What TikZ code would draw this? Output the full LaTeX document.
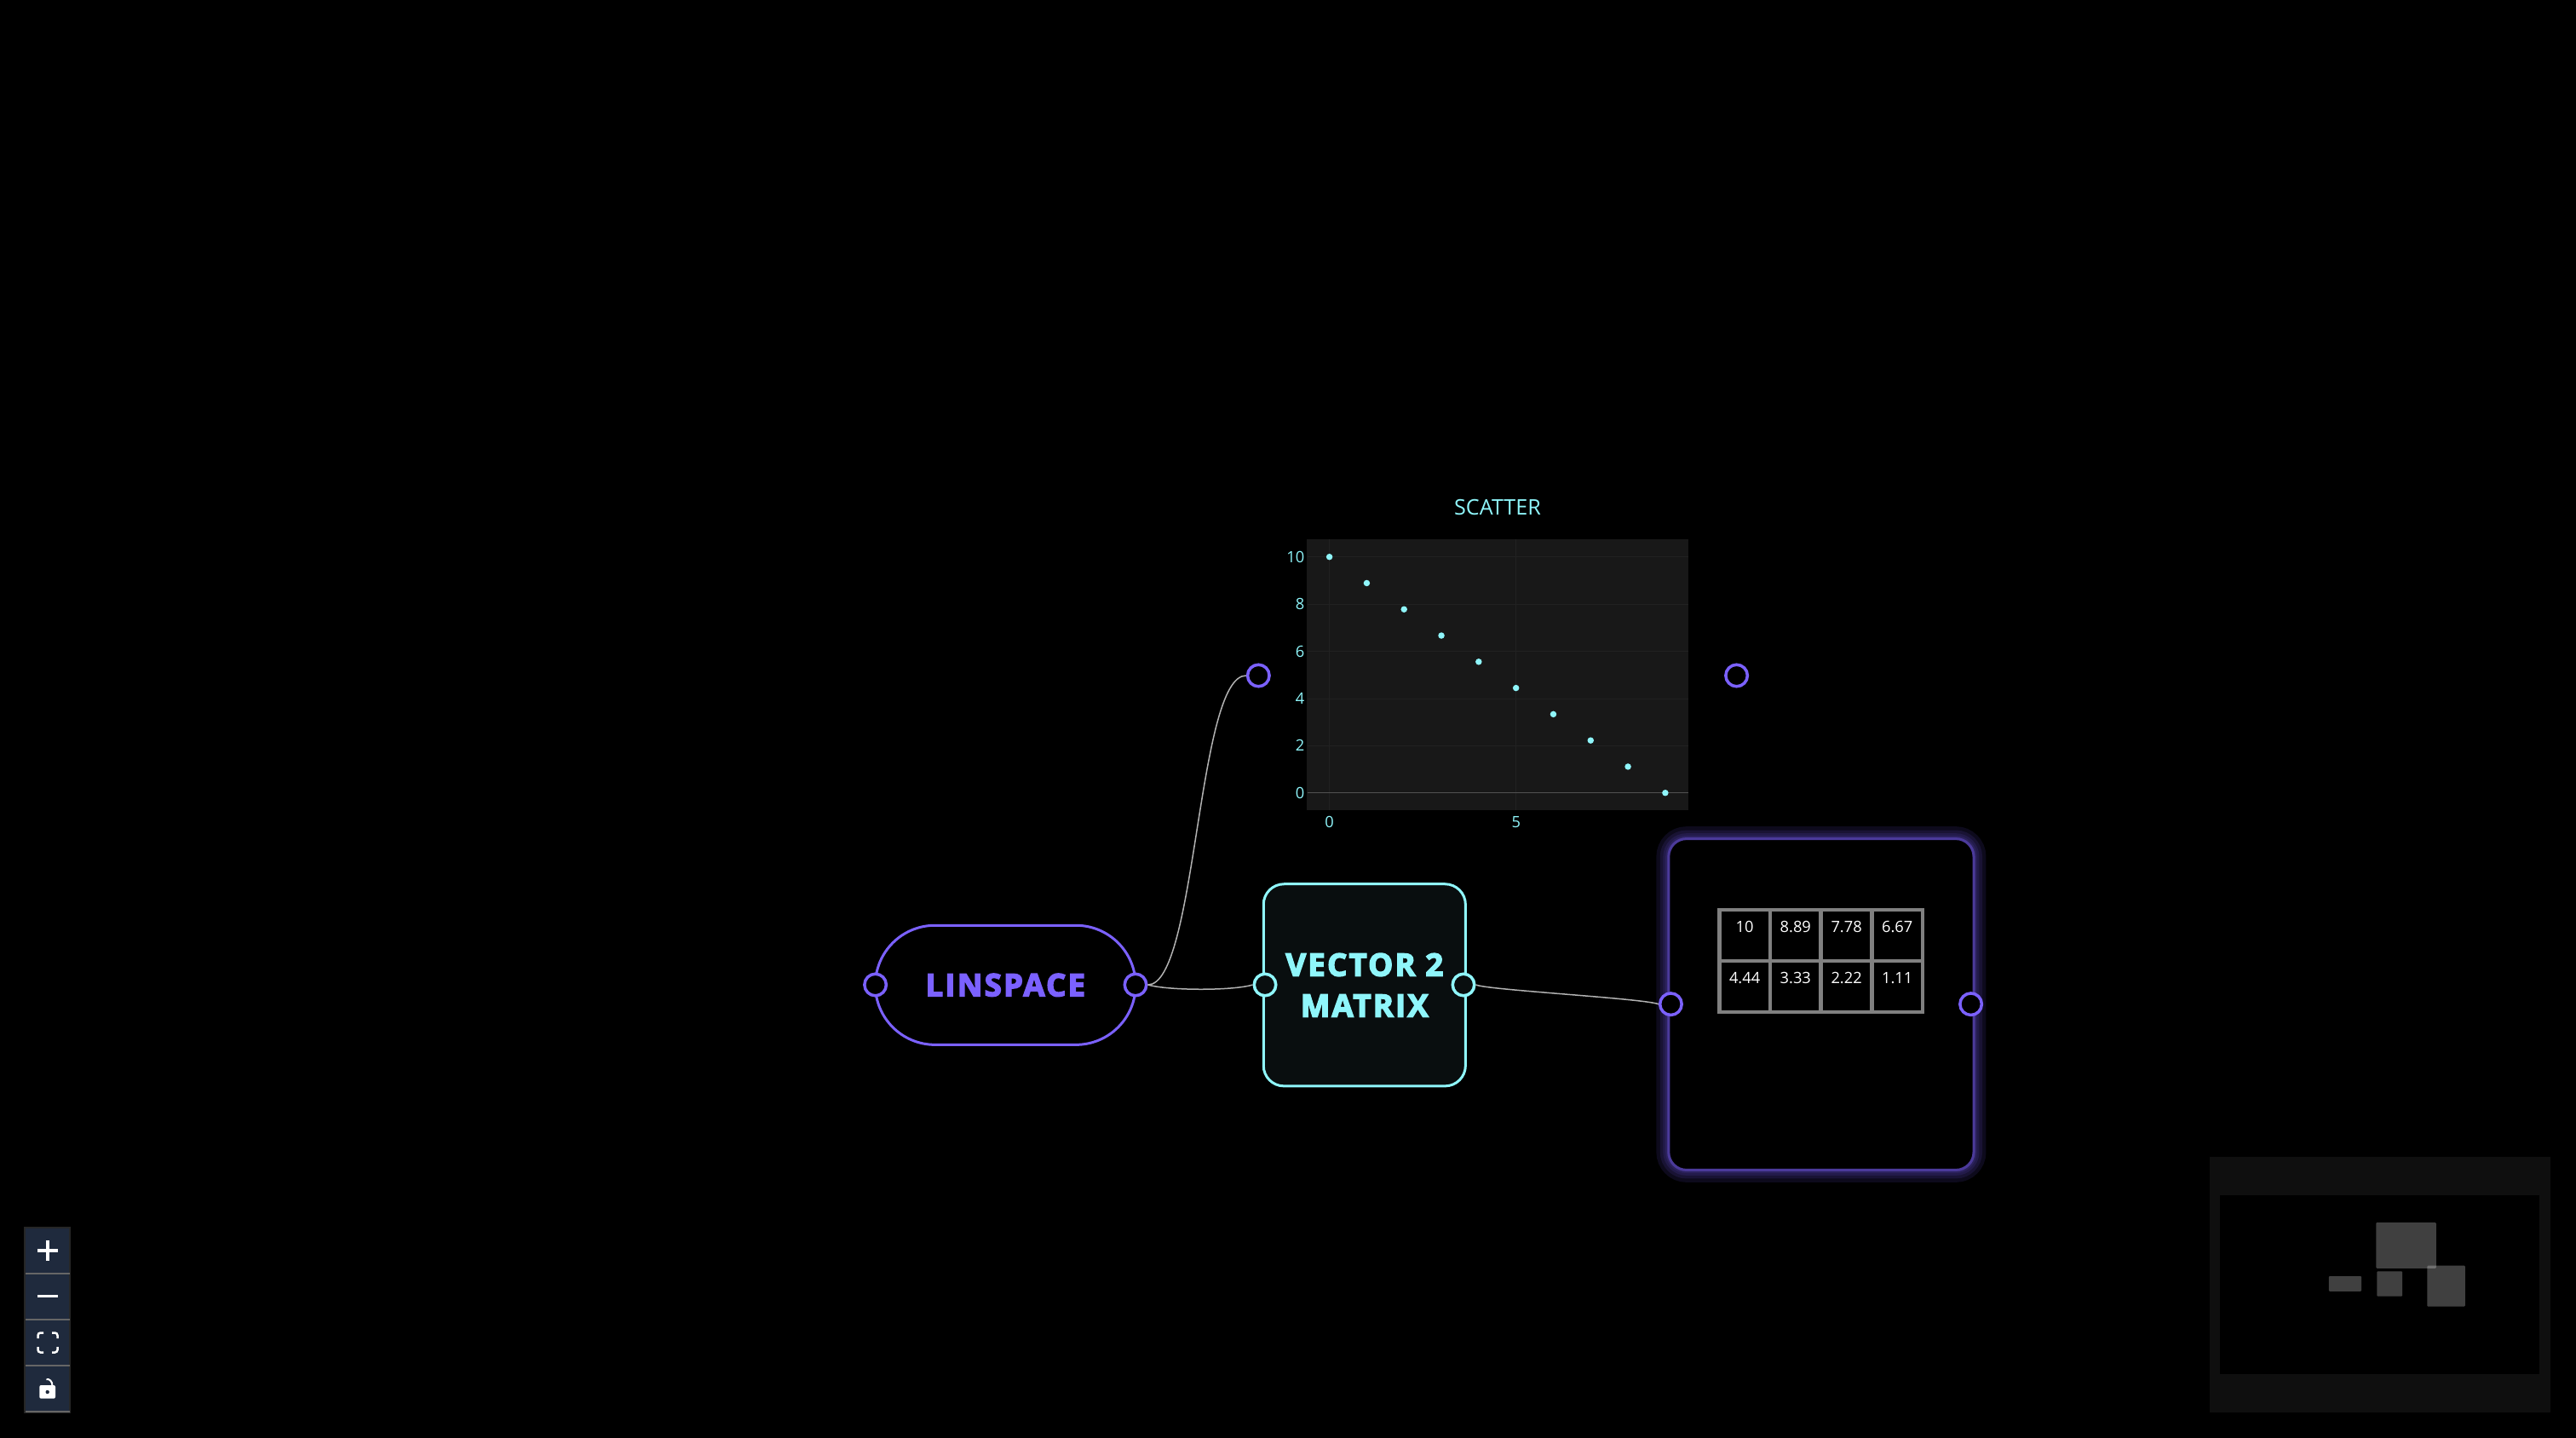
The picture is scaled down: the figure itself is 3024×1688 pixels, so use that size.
\documentclass[tikz,border=0pt]{standalone}
\usepackage{fontspec}
\setmainfont{Open Sans}
\newfontfamily\nodefont[LetterSpace=6,BoldFeatures={FakeBold=4}]{Open Sans}
\definecolor{nodepurple}{HTML}{7B61FF}
\definecolor{nodecyan}{HTML}{8FF6FB}
\definecolor{glowpurple}{HTML}{4B3A9A}
\definecolor{boxfill}{HTML}{090E0F}
\definecolor{plotfill}{HTML}{181818}
\definecolor{plotgrid}{HTML}{212121}
\definecolor{panelfill}{HTML}{1F2A3D}
\definecolor{mapfill}{HTML}{0F0F0F}
\begin{document}
\begin{tikzpicture}[x=.01cm,y=-.01cm,
    port/.style={circle,draw=nodepurple,fill=black,line width=.035cm,minimum size=.255cm,inner sep=0},
    cyanport/.style={port,draw=nodecyan,fill=boxfill},
    wire/.style={draw=black!30,line width=.015cm},
    pillbox/.style={rectangle,draw=nodepurple,line width=.03cm,rounded corners=.7cm,minimum width=3.054cm,
      minimum height=1.4cm,text=nodepurple,font=\nodefont\bfseries\fontsize{10.4}{13.65}\selectfont},
    vecbox/.style={rectangle,draw=nodecyan,fill=boxfill,line width=.03cm,rounded corners=.24cm,minimum width=2.37cm,
      minimum height=2.37cm,text=nodecyan,align=center,font=\nodefont\bfseries\fontsize{10.4}{13.65}\selectfont},
    outbox/.style={rectangle,rounded corners=.21cm,minimum width=3.58cm,minimum height=3.886cm},
    plotarea/.style={rectangle,fill=plotfill,minimum width=4.47cm,minimum height=3.18cm,inner sep=0},
    tick/.style={text=nodecyan,inner sep=0,font=\fontsize{5.2}{6}\selectfont},
    dot/.style={circle,fill=nodecyan,minimum size=.075cm,inner sep=0},
    matcell/.style={rectangle,draw=black!50,line width=.045cm,minimum width=.597cm,minimum height=.6cm,inner sep=0,
      text=white,text height=.19cm,text depth=.26cm,font=\fontsize{5.2}{6}\selectfont},
    mapbox/.style={rectangle,fill=white,fill opacity=.25,rounded corners=.01cm,inner sep=0},
    icon/.style={draw=white,line width=.035cm}]

  \useasboundingbox (0,0) rectangle (3024,1688);
  \fill[black] (0,0) rectangle (3024,1688);

  \node[text=nodecyan,inner sep=0,font=\fontsize{7.15}{8}\selectfont] (scattertitle) at (1758,596) {SCATTER};
  \node[plotarea] (scatterplot) at (1758,792) {};
  \foreach \v/\y in {10/653.7,8/709,6/764.7,4/820.3,2/875.3,0/930.7} {
    \draw[plotgrid,line width=.01cm] (1534.5,\y) -- (1981.5,\y);
    \node[tick,anchor=east] (ytick\v) at (1532,\y) {\v};
  }
  \foreach \v/\x in {0/1560.6,5/1779.8} {
    \draw[plotgrid,line width=.01cm] (\x,633) -- (\x,951);
    \node[tick] (xtick\v) at (\x,965) {\v};
  }
  \draw[black!68,line width=.012cm] (1534.5,930.7) -- (1981.5,930.7);
  \foreach \i in {0,...,9} {
    \node[dot] (dot\i) at (1560.6+43.81*\i,653.7+30.78*\i) {};
  }
  \node[port] (scatterin) at (1477.3,793) {};
  \node[port] (scatterout) at (2038.6,793) {};

  \node[pillbox] (linspace) at (1180.3,1156.3) {LINSPACE};
  \node[port] (linspacein) at (1027.6,1156) {};
  \node[port] (linspaceout) at (1333,1156) {};

  \node[vecbox] (vector) at (1601.8,1156.3) {VECTOR 2\\MATRIX};
  \node[cyanport] (vectorin) at (1485,1156) {};
  \node[cyanport] (vectorout) at (1718,1156) {};

  \foreach \g in {1,...,6} {
    \node[outbox,draw=nodepurple,line width=\g*\g*.008cm,draw opacity=.11] (glow\g) at (2137.9,1179) {};
  }
  \node[outbox,draw=glowpurple,fill=black,line width=.03cm] (output) at (2137.9,1179) {};
  \foreach \i/\x/\y/\v in {0/2048.1/1097.9/10,1/2107.8/1097.9/8.89,2/2167.6/1097.9/7.78,3/2227.2/1097.9/6.67,
      4/2048.1/1157.9/4.44,5/2107.8/1157.9/3.33,6/2167.6/1157.9/2.22,7/2227.2/1157.9/1.11} {
    \node[matcell] (cell\i) at (\x,\y) {\v};
  }
  \node[port] (outputin) at (1961.4,1178.7) {};
  \node[port] (outputout) at (2313.6,1178.7) {};

  \draw[wire] (linspaceout.east) .. controls (1405,1156) and (1405,793) .. (scatterin.west);
  \draw[wire] (linspaceout.east) .. controls (1372,1163) and (1448,1163) .. (vectorin.west);
  \draw[wire] (vectorout.east) .. controls (1745,1162) and (1930,1172) .. (outputin.west);

  \node[rectangle,fill=panelfill,draw=black!85,line width=.02cm,minimum width=.53cm,minimum height=2.17cm,inner sep=0] (zoompanel) at (55.8,1549.3) {};
  \foreach \y in {1495,1549,1603,1657} {
    \draw[black!60,line width=.02cm] (30,\y) -- (82,\y);
  }
  \draw[icon] (44,1468) -- (68,1468) (56,1456) -- (56,1480);
  \draw[icon] (44,1521.7) -- (68,1521.7);
  \draw[icon,line width=.025cm,rounded corners=.03cm] (44.5,1571) -- (44.5,1564.5) -- (51,1564.5)
    (61,1564.5) -- (67.5,1564.5) -- (67.5,1571)
    (67.5,1581) -- (67.5,1587.5) -- (61,1587.5)
    (51,1587.5) -- (44.5,1587.5) -- (44.5,1581);
  \fill[white,rounded corners=.02cm] (46.3,1626) rectangle (65,1641.7);
  \draw[icon,line width=.02cm] (54.5,1619) .. controls (58,1618.5) and (61.5,1621) .. (61.5,1627);
  \fill[panelfill] (55.7,1634) circle (2.2);

  \node[rectangle,fill=mapfill,minimum width=4cm,minimum height=2.997cm,inner sep=0] (minimap) at (2794,1507.9) {};
  \node[rectangle,fill=black,minimum width=3.75cm,minimum height=2.097cm,inner sep=0] (mapview) at (2793.8,1507.9) {};
  \node[mapbox,minimum width=.704cm,minimum height=.537cm] (mapscatter) at (2824.5,1461.9) {};
  \node[mapbox,minimum width=.297cm,minimum height=.294cm] (mapvector) at (2805.2,1507) {};
  \node[mapbox,minimum width=.383cm,minimum height=.177cm] (maplinspace) at (2752.9,1506.9) {};
  \node[mapbox,minimum width=.444cm,minimum height=.48cm] (mapoutput) at (2871.5,1509.7) {};

\end{tikzpicture}
\end{document}
